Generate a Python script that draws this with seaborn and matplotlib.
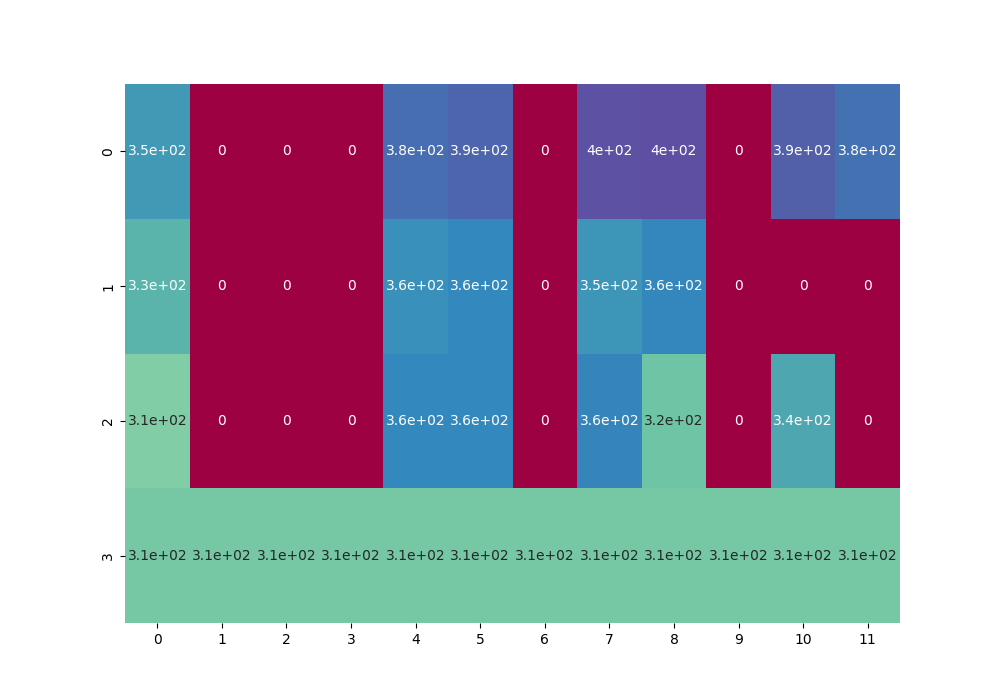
import numpy as np
import matplotlib
matplotlib.use("Agg")
import matplotlib.pyplot as plt
import seaborn as sns

# values
row0 = [350, 0, 0, 0, 380, 386, 0, 400, 402, 0, 390, 378]
row1 = [330, 0, 0, 0, 356, 360, 0, 352, 362, 0, 0, 0]
row2 = [306, 0, 0, 0, 360, 360, 0, 364, 317, 0, 340, 0]
row3 = [312] * 12

data = np.array([row0, row1, row2, row3])

fig, ax = plt.subplots(figsize=(10, 7))
sns.heatmap(data, annot=True, cmap="Spectral", cbar=False, ax=ax)
plt.savefig("out.png", dpi=100)
